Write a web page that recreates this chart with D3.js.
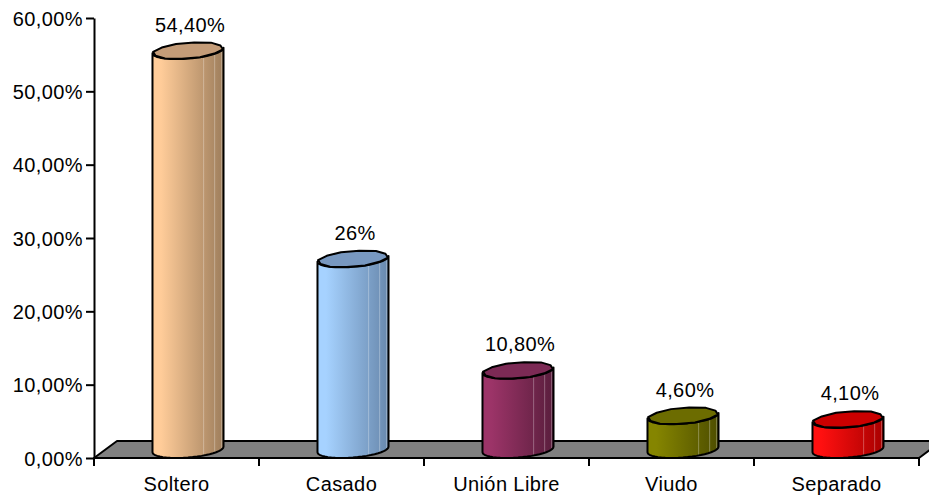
<!DOCTYPE html>
<html><head><meta charset="utf-8">
<script src="https://cdn.jsdelivr.net/npm/d3@7"></script>
<style>
html,body{margin:0;padding:0;background:#fff;}
svg text{font-family:"Liberation Sans",Arial,sans-serif;font-size:20px;fill:#000;letter-spacing:0.4px;}
</style></head>
<body>
<svg id="chart" width="929" height="498"></svg>
<script>
const categories = ["Soltero", "Casado", "Unión Libre", "Viudo", "Separado"];
const values = [54.4, 26, 10.8, 4.6, 4.1];
const valueLabels = ["54,40%", "26%", "10,80%", "4,60%", "4,10%"];
const yTicks = [0, 10, 20, 30, 40, 50, 60];
const yTickLabels = ["0,00%", "10,00%", "20,00%", "30,00%", "40,00%", "50,00%", "60,00%"];
const lightColors = ["#FFCC99", "#A6D2FF", "#9C3468", "#858500", "#FF1010"];
const darkColors  = ["#9E7E5C", "#6888AD", "#5A1E3D", "#4E4E00", "#A80000"];
const capColors   = ["#C49C78", "#7898C0", "#7C2A55", "#6C6C00", "#CC0000"];

(function () {
const svg = d3.select("#chart");
const pLeft = 94, pRight = 919, pTop = 18, pBottom = 458;
const depthX = 23, depthY = 17;

const x = d3.scaleBand().domain(categories).range([pLeft, pRight]).padding(0);
const y = d3.scaleLinear().domain([0, 60]).range([pBottom, pTop]);
const bw = x.bandwidth();

const defs = svg.append("defs");

// floor
svg.append("path")
  .attr("d", `M${pLeft},${pBottom} L${pLeft + depthX},${pBottom - depthY} L${pRight + depthX},${pBottom - depthY} L${pRight},${pBottom} Z`)
  .attr("fill", "#808080").attr("stroke", "#000").attr("stroke-width", 2).attr("stroke-linejoin", "round");

// y axis
const yAxis = svg.append("g").attr("transform", `translate(${pLeft},0)`)
  .call(d3.axisLeft(y).tickValues(yTicks).tickFormat((d, i) => yTickLabels[i]).tickSize(8).tickSizeOuter(0).tickPadding(3));
yAxis.attr("font-size", null).attr("font-family", null);
yAxis.select(".domain").attr("stroke", "#000").attr("stroke-width", 2);
yAxis.selectAll(".tick line").attr("stroke", "#000").attr("stroke-width", 2);
yAxis.selectAll(".tick text").attr("fill", "#000").attr("dy", "0.36em");

// x axis
svg.append("line").attr("x1", pLeft).attr("x2", pRight).attr("y1", pBottom).attr("y2", pBottom)
  .attr("stroke", "#000").attr("stroke-width", 2);
const bounds = categories.map(c => x(c)).concat([x.range()[1]]);
svg.selectAll(".xtick").data(bounds).enter().append("line")
  .attr("x1", d => d).attr("x2", d => d).attr("y1", pBottom).attr("y2", pBottom + 8)
  .attr("stroke", "#000").attr("stroke-width", 2);
svg.selectAll(".xlabel").data(categories).enter().append("text")
  .attr("x", d => x(d) + bw / 2).attr("y", 491).attr("text-anchor", "middle").text(d => d);

// cylinders
const r = 33.6, hx = depthX / 2, hy = depthY / 2;
const t0 = Math.atan2(hx, r);
const N = 12;
function pt(cx, cy, t, k) { const s = k || 1; return [cx + s * (r * Math.cos(t) + hx * Math.sin(t)), cy - s * hy * Math.sin(t)]; }

categories.forEach((c, i) => {
  const cx = x(c) + bw / 2 + hx;
  const baseY = y(0) - hy;
  const topY = y(values[i]) - hy;
  const g = svg.append("g");
  const gid = "grad" + i;
  const xl = pt(cx, 0, t0 - Math.PI)[0], xr = pt(cx, 0, t0)[0];
  const grad = defs.append("linearGradient").attr("id", gid)
    .attr("gradientUnits", "userSpaceOnUse").attr("x1", xl).attr("x2", xr).attr("y1", 0).attr("y2", 0);
  grad.append("stop").attr("offset", 0).attr("stop-color", lightColors[i]);
  grad.append("stop").attr("offset", 0.12).attr("stop-color", lightColors[i]);
  grad.append("stop").attr("offset", 1).attr("stop-color", darkColors[i]);

  const steps = 24;
  let d = "";
  const pTL = pt(cx, topY, t0 - Math.PI);
  d += `M${pTL[0]},${pTL[1]}`;
  for (let k = 0; k <= steps; k++) {
    const t = (t0 - Math.PI) + Math.PI * k / steps;
    const p = pt(cx, baseY, t);
    d += `L${p[0]},${p[1]}`;
  }
  for (let k = steps; k >= 0; k--) {
    const t = (t0 - Math.PI) + Math.PI * k / steps;
    const p = pt(cx, topY, t);
    d += `L${p[0]},${p[1]}`;
  }
  d += "Z";
  g.append("path").attr("d", d).attr("fill", `url(#${gid})`);

  const M = 16;
  for (let k = 0; k < M; k++) {
    const t = -Math.PI + 2 * Math.PI * k / M;
    if (t > t0 - Math.PI + 0.05 && t < t0 - 0.05 && (t > -0.9 || t < -2.7)) {
      const a = pt(cx, topY, t), b = pt(cx, baseY, t);
      g.append("line").attr("x1", a[0]).attr("x2", b[0]).attr("y1", a[1]).attr("y2", b[1])
        .attr("stroke", "#fff").attr("stroke-opacity", t < -2.7 ? 0.15 : 0.3).attr("stroke-width", 1);
    }
  }
  g.append("path").attr("d", d).attr("fill", "none").attr("stroke", "#000").attr("stroke-width", 2).attr("stroke-linejoin", "round");

  // slightly irregular faceted cap, like the reference's rendering
  const capPts = d3.range(N).map(k => {
    const t = 2 * Math.PI * k / N + 0.15;
    return pt(cx, topY, t, k % 2 ? 0.97 : 1.0);
  });
  g.append("path").attr("d", "M" + capPts.map(p => p.join(",")).join("L") + "Z")
    .attr("fill", capColors[i]).attr("stroke", "#000").attr("stroke-width", 2).attr("stroke-linejoin", "round");

  svg.append("text").attr("x", cx + 2).attr("y", topY - 19).attr("text-anchor", "middle").text(valueLabels[i]);
});
})();
</script>
</body></html>
